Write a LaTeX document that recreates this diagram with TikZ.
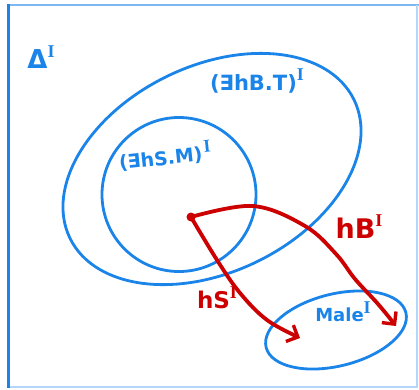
\documentclass[tikz,border=0pt]{standalone}
\usepackage{fontspec}
\setmainfont{DejaVu Sans}
\newfontfamily\serifI{Liberation Serif}
\usetikzlibrary{arrows.meta}
\definecolor{pblue}{HTML}{1A84E8}
\definecolor{lblue}{HTML}{7DB8F2}
\definecolor{fblue}{HTML}{B5D6F8}
\definecolor{pred}{HTML}{CC0000}
\newcommand{\supI}{\raisebox{0.45em}{\serifI\fontsize{18}{18}\selectfont\bfseries I}}
\tikzset{
  setline/.style={draw=pblue, line width=2.8pt},
  rel/.style={draw=pred, line width=3.8pt, line cap=round, line join=round,
    -{Straight Barb[length=9pt,width=18pt,line width=3.4pt]}},
  bluelbl/.style={text=pblue, inner sep=0pt},
  redlbl/.style={text=pred, inner sep=0pt},
}
\begin{document}
\begin{tikzpicture}[x=1pt,y=-1pt]
\useasboundingbox (0,0) rectangle (419,389);
% frame
\draw[lblue, line width=2pt] (8,5) -- (419,5);
\draw[fblue, line width=1.4pt] (417,5) -- (417,387) -- (8,387);
\draw[pblue, line width=3pt] (8,4) -- (8,388);
% sets
\draw[setline, rotate around={26:(212,169)}] (212,169) ellipse [x radius=158, y radius=103];
\draw[setline] (179,194.5) circle [radius=77];
\draw[setline, rotate around={14:(336,330)}] (336,330) ellipse [x radius=72, y radius=36];
% labels
\node[bluelbl, font=\fontsize{26}{28}\selectfont\bfseries] (delta) at (41,57) {Δ\supI};
\node[bluelbl, font=\fontsize{21}{24}\selectfont\bfseries] (hbt) at (257,81) {(∃hB.T)\supI};
\node[bluelbl, font=\fontsize{19}{22}\selectfont\bfseries, rotate=6] (hsm) at (165,156) {(∃hS.M)\kern2pt\supI};
\node[bluelbl, font=\fontsize{18}{20}\selectfont\bfseries] (male) at (343,312) {Male\supI};
\node[redlbl, font=\fontsize{27}{30}\selectfont\bfseries] (hb) at (359,227) {hB\supI};
\node[redlbl, font=\fontsize{23}{26}\selectfont\bfseries] (hs) at (217,298) {hS\supI};
% element
\node[circle, fill=pred, inner sep=0pt, minimum size=9pt] (d) at (191,217) {};
\coordinate (hbend) at (396,326);
\coordinate (hsend) at (300,338);
% relations
\draw[rel] plot[smooth, tension=0.6] coordinates {(d) (253,206) (305,226) (336,254) (355,279) (378,304) (hbend)};
\draw[rel] plot[smooth, tension=0.6] coordinates {(d) (217,260) (240,293) (267,320) (hsend)};
\end{tikzpicture}
\end{document}
